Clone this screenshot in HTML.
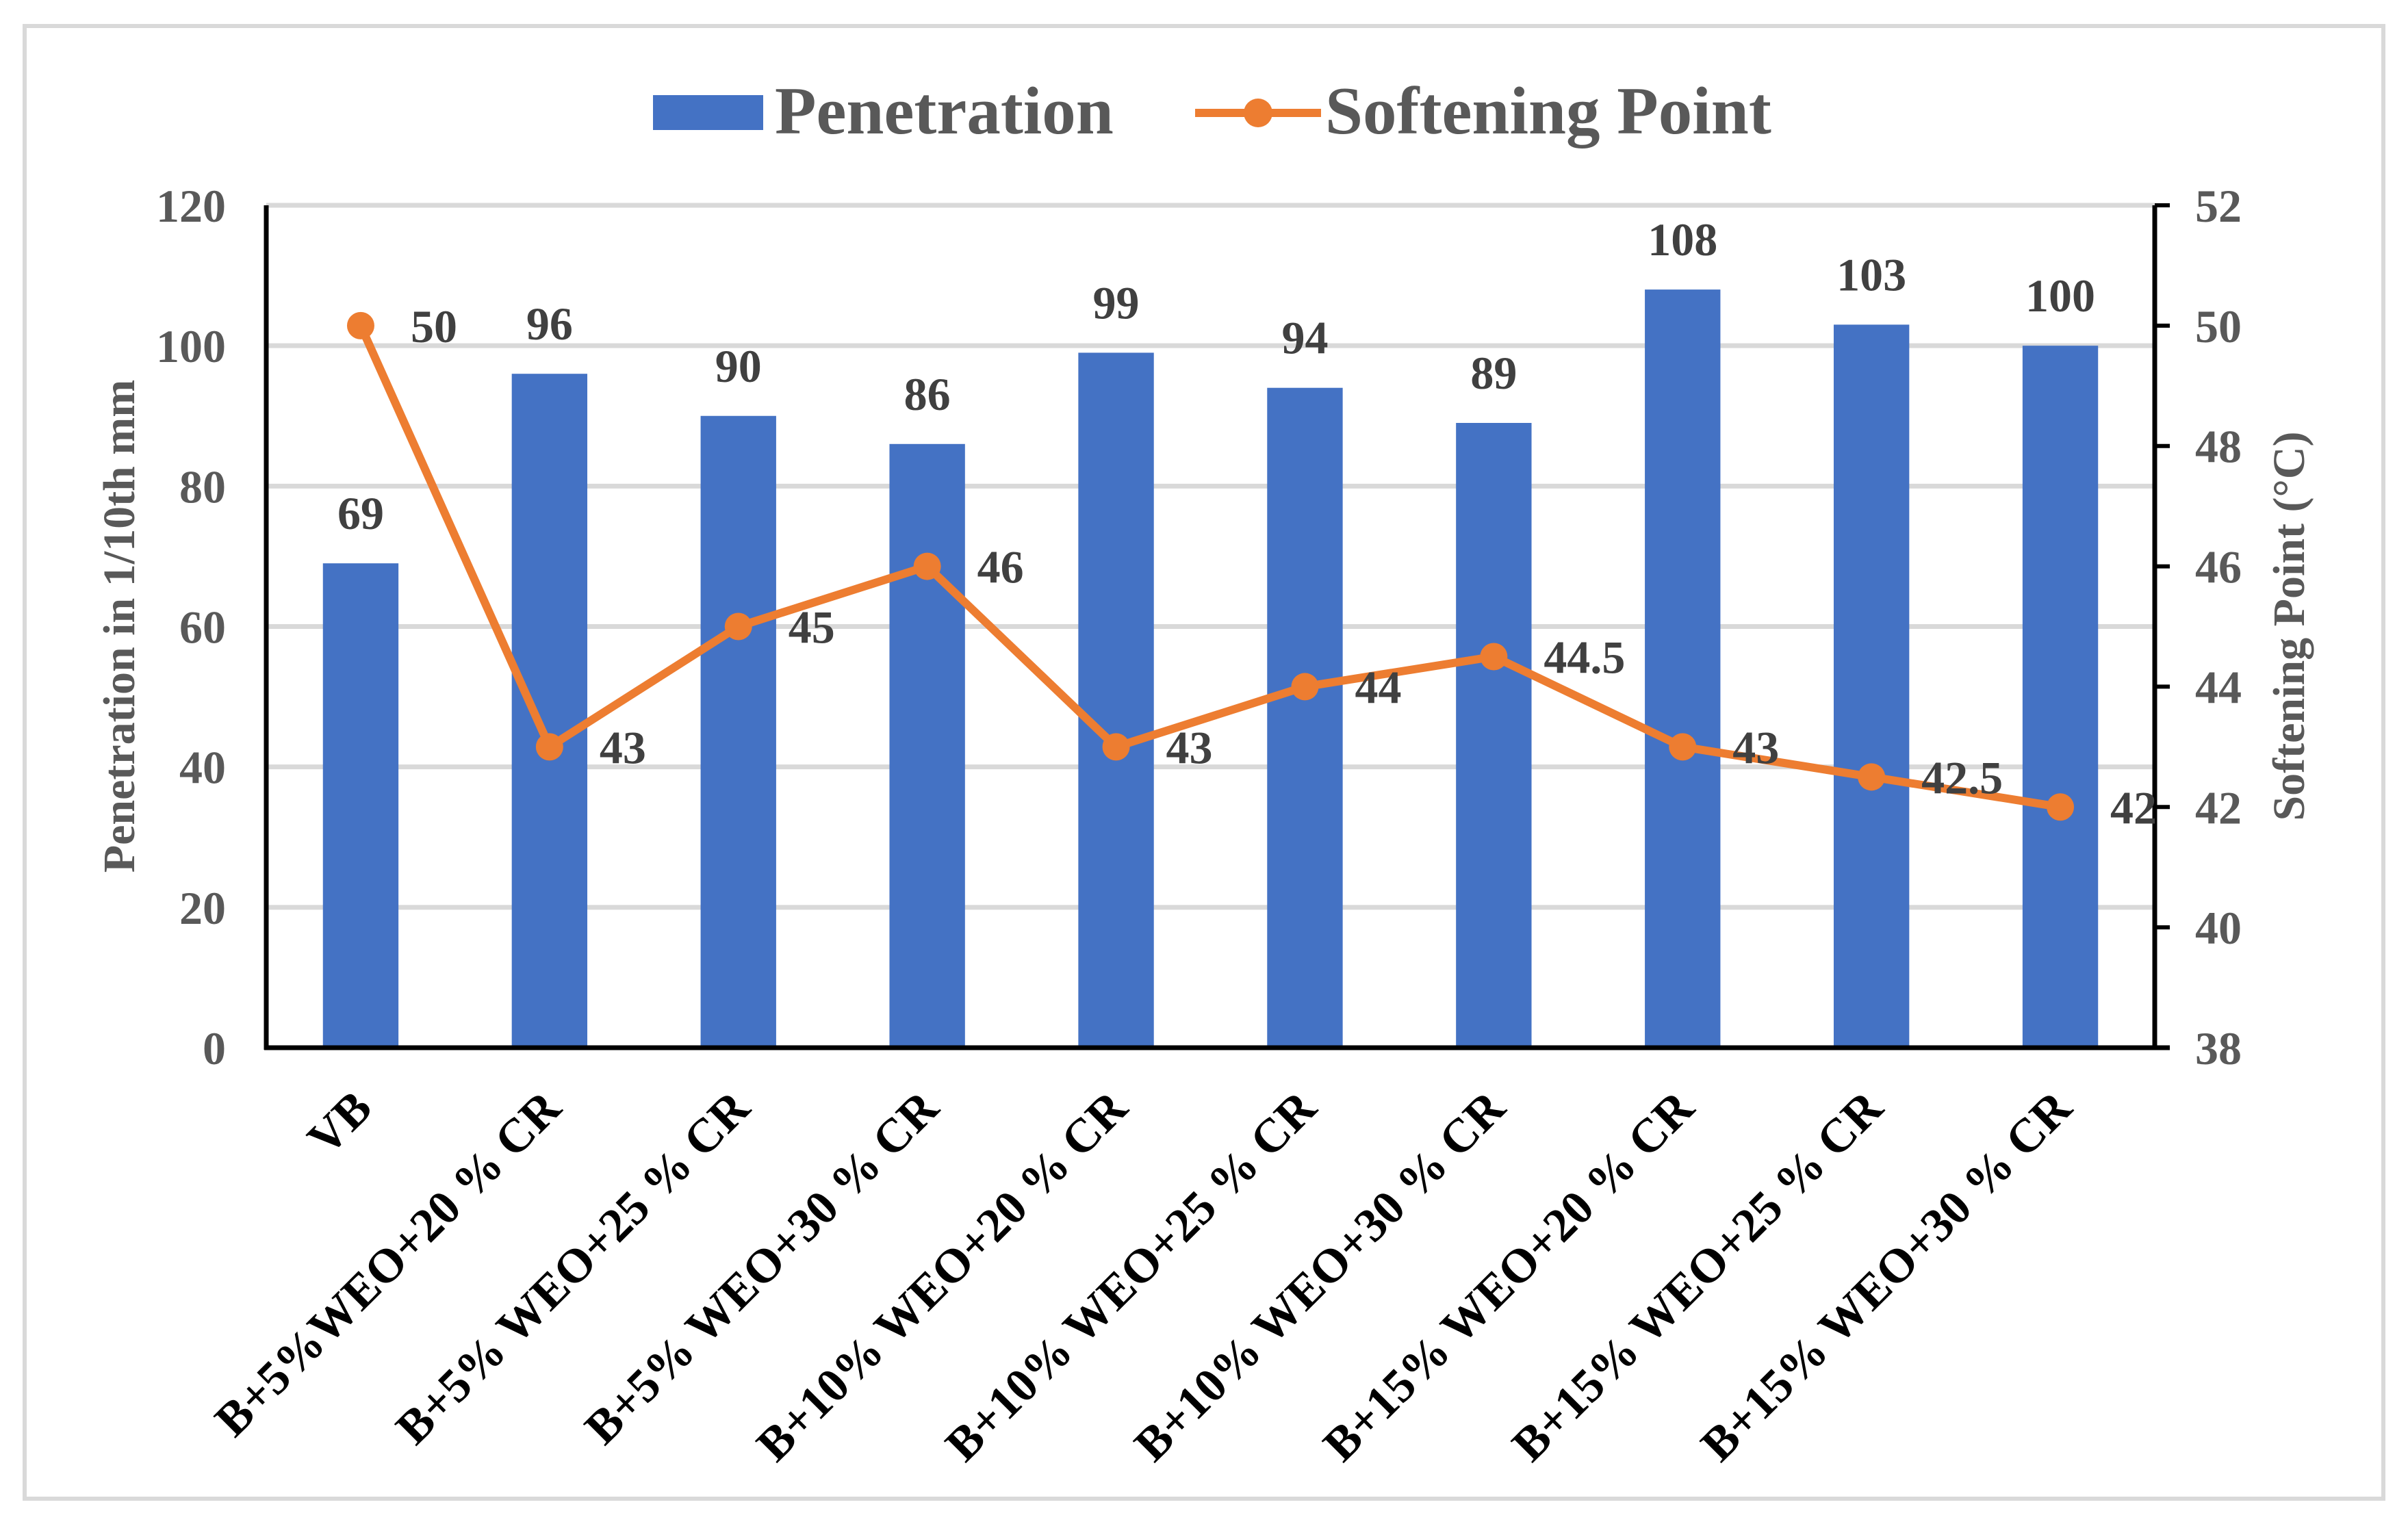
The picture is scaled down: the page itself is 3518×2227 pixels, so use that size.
<!DOCTYPE html>
<html><head><meta charset="utf-8"><style>
html,body{margin:0;padding:0;background:#fff}
svg{display:block;font-family:"Liberation Serif",serif;font-weight:bold}
</style></head><body>
<svg id="chart" width="3518" height="2227" viewBox="0 0 3518 2227">
<rect x="36" y="38" width="3446" height="2152" fill="#fff" stroke="#d9d9d9" stroke-width="6"/>
<g id="grid"></g>
<g id="bars"></g>
<g id="axes"></g>
<g id="line"></g>
<g id="labels"></g>
<g id="legend">
  <rect x="954" y="139" width="161" height="51" fill="#4472c4"/>
  <text x="1132" y="195" font-size="99" fill="#595959">Penetration</text>
  <line x1="1746" y1="165" x2="1930" y2="165" stroke="#ed7d31" stroke-width="12"/>
  <circle cx="1838" cy="165" r="21" fill="#ed7d31"/>
  <text x="1936" y="195" font-size="99" fill="#595959">Softening Point</text>
</g>
<text transform="translate(196,915) rotate(-90)" text-anchor="middle" font-size="66" fill="#595959">Penetration in 1/10th mm</text>
<text transform="translate(3366,915) rotate(-90)" text-anchor="middle" font-size="66" fill="#595959">Softening Point (°C)</text>
</svg>
<script>
const categories=["VB","B+5%WEO+20 % CR","B+5% WEO+25 % CR","B+5% WEO+30 % CR","B+10% WEO+20 % CR","B+10% WEO+25 % CR","B+10% WEO+30 % CR","B+15% WEO+20 % CR","B+15% WEO+25 % CR","B+15% WEO+30 % CR"];
const penetration=[69,96,90,86,99,94,89,108,103,100];
const softening=[50,43,45,46,43,44,44.5,43,42.5,42];
const leftTicks=[0,20,40,60,80,100,120];
const rightTicks=[38,40,42,44,46,48,50,52];

const NS="http://www.w3.org/2000/svg";
const X0=389,X1=3148,Y0=1531,Y1=300;
const band=(X1-X0)/categories.length;
const xc=i=>X0+band*(i+0.5);
const yl=v=>Y0-(v-0)/(120-0)*(Y0-Y1);
const yr=v=>Y0-(v-38)/(52-38)*(Y0-Y1);
function mk(tag,attrs,parent,txt){const e=document.createElementNS(NS,tag);for(const k in attrs)e.setAttribute(k,attrs[k]);if(txt!==undefined)e.textContent=txt;parent.appendChild(e);return e;}
const grid=document.getElementById('grid'),bars=document.getElementById('bars'),axes=document.getElementById('axes'),line=document.getElementById('line'),labels=document.getElementById('labels');

leftTicks.forEach(t=>{
  if(t>0){const g=mk('line',{x1:X0,x2:X1,y1:yl(t),y2:yl(t),stroke:'#d9d9d9','stroke-width':7},grid);
  
  }
  const l=mk('text',{x:330,y:yl(t)+24,'text-anchor':'end','font-size':68,fill:'#595959'},axes,String(t));
  
  
});
rightTicks.forEach(t=>{
  const tk=mk('line',{x1:X1,x2:X1+22,y1:yr(t),y2:yr(t),stroke:'#000','stroke-width':6},axes);
  
  
  const l=mk('text',{x:3207,y:yr(t)+24,'font-size':68,fill:'#595959'},axes,String(t));
  
  
});
const bw=band*0.4;
penetration.forEach((v,i)=>{
  const r=mk('rect',{x:xc(i)-bw/2,y:yl(v),width:bw,height:Y0-yl(v),fill:'#4472c4'},bars);
  
  
});
const la=mk('line',{x1:X0,x2:X0,y1:Y1,y2:Y0+3,stroke:'#000','stroke-width':7},axes);


const ra=mk('line',{x1:X1,x2:X1,y1:Y1,y2:Y0+3,stroke:'#000','stroke-width':7},axes);


const xa=mk('line',{x1:X0-3,x2:X1+22,y1:Y0,y2:Y0,stroke:'#000','stroke-width':7},axes);


categories.forEach((c,i)=>{
  const t=mk('text',{transform:`translate(${xc(i)+20},${Y0+92}) rotate(-45)`,'text-anchor':'end','font-size':70,fill:'#000'},axes,c);
  
  
});
const pts=softening.map((v,i)=>xc(i)+','+yr(v)).join(' ');
const pl=mk('polyline',{points:pts,fill:'none',stroke:'#ed7d31','stroke-width':12,'stroke-linejoin':'round'},line);


softening.forEach((v,i)=>{
  const c=mk('circle',{cx:xc(i),cy:yr(v),r:20,fill:'#ed7d31'},line);
  
  
});
penetration.forEach((v,i)=>{
  const t=mk('text',{x:xc(i),y:yl(v)-50,'text-anchor':'middle','font-size':68,fill:'#404040'},labels,String(v));
  
  
});
softening.forEach((v,i)=>{
  const t=mk('text',{x:xc(i)+73,y:yr(v)+24,'font-size':68,fill:'#404040'},labels,String(v));
  
  
});
</script>
</body></html>
